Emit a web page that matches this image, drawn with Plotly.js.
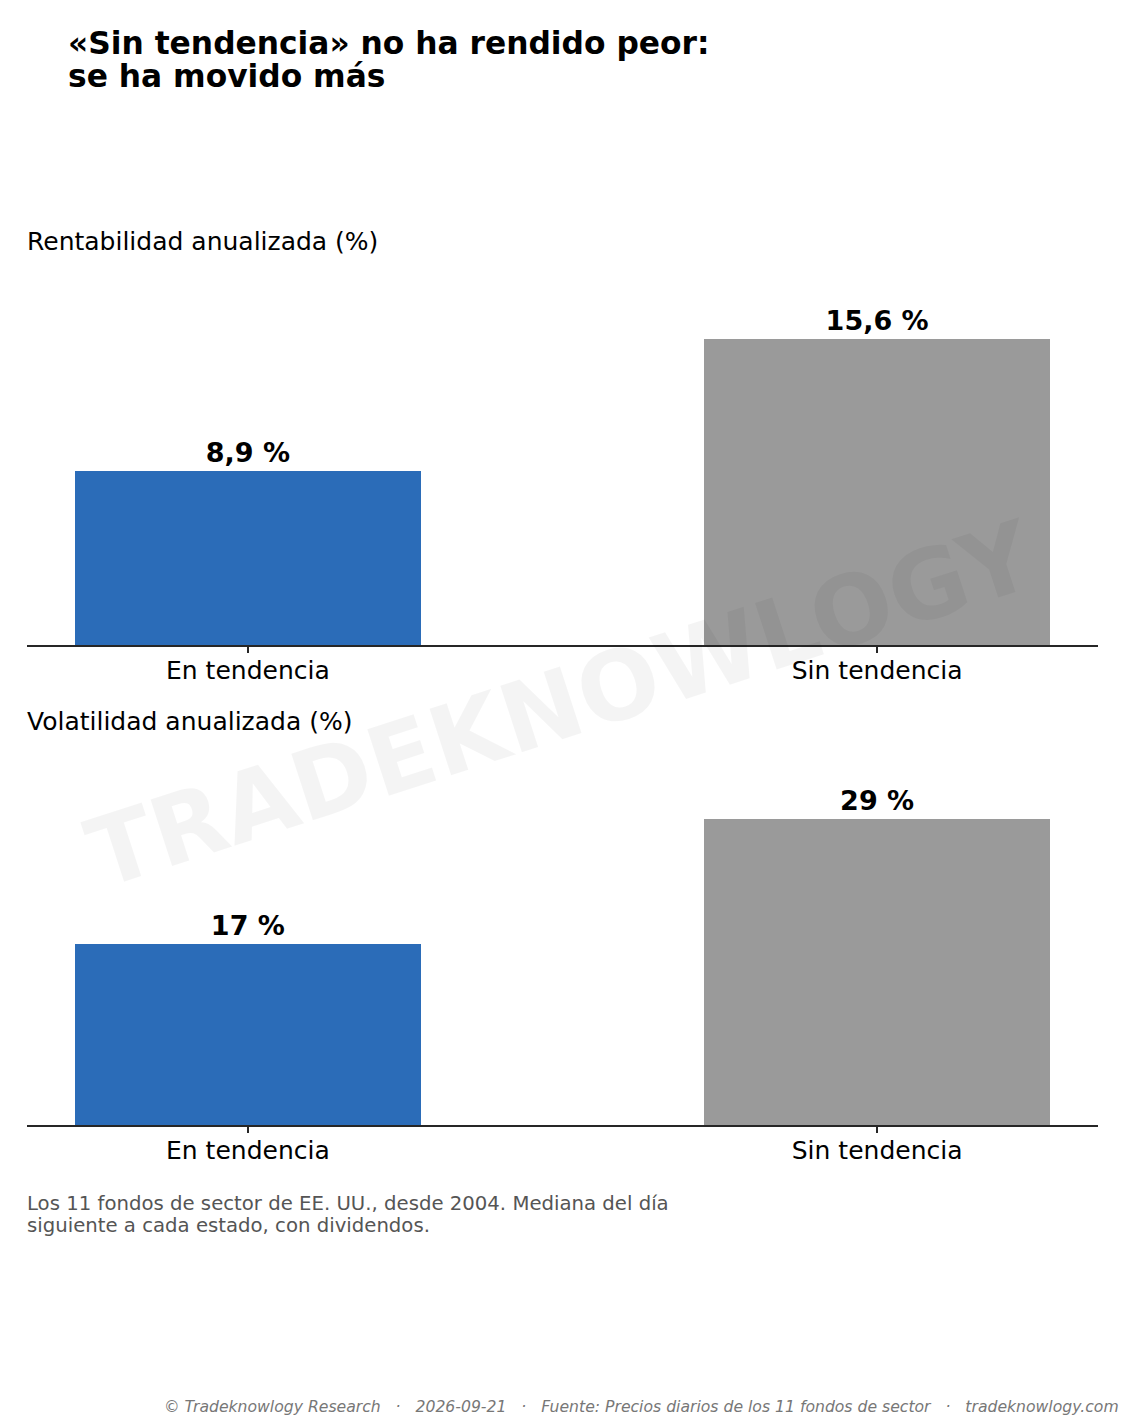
<!DOCTYPE html>
<html>
<head>
<meta charset="utf-8">
<script src="https://cdn.plot.ly/plotly-3.0.1.min.js"></script>
<style>html,body{margin:0;padding:0;background:#fff;}#chart{width:1125px;height:1425px;}</style>
</head>
<body>
<div id="chart"></div>
<script>
const categories = ['En tendencia', 'Sin tendencia'];
const returnValues = [8.9, 15.6];
const volatilityValues = [17.2, 29];
const barColors = ['#2b6cb8', '#9a9a9a'];
const panelTitles = ['Rentabilidad anualizada (%)', 'Volatilidad anualizada (%)'];
const titleLines = ['«Sin tendencia» no ha rendido peor:', 'se ha movido más'];
const noteLines = ['Los 11 fondos de sector de EE. UU., desde 2004. Mediana del día', 'siguiente a cada estado, con dividendos.'];
const footerParts = ['© Tradeknowlogy Research', '2026-09-21', 'Fuente: Precios diarios de los 11 fondos de sector', 'tradeknowlogy.com'];
const watermark = 'TRADEKNOWLOGY';

const W = 1125, H = 1425;
const px = x => x / W;
const py = y => 1 - y / H;
const FONT = 'DejaVu Sans, sans-serif';

const barCommon = {
  type: 'bar',
  x: categories,
  width: 0.55,
  marker: {color: barColors, line: {width: 0}},
  textposition: 'outside',
  cliponaxis: false,
  textfont: {family: FONT, size: 27, color: '#000', weight: 'bold'},
  hoverinfo: 'skip',
  showlegend: false
};

const traces = [
  Object.assign({}, barCommon, {y: returnValues, texttemplate: '<b>%{y:.1f} %</b>', xaxis: 'x', yaxis: 'y'}),
  Object.assign({}, barCommon, {y: volatilityValues, texttemplate: '<b>%{y:.0f} %</b>', xaxis: 'x2', yaxis: 'y2'})
];

const xCommon = {
  type: 'category',
  domain: [px(27), px(1098)],
  range: [-0.351, 1.351],
  showgrid: false,
  zeroline: false,
  showline: true,
  linecolor: '#262626',
  linewidth: 1.5,
  ticks: 'outside',
  ticklen: 6,
  tickwidth: 1.3,
  tickcolor: '#262626',
  ticklabelstandoff: -4,
  tickfont: {family: FONT, size: 25, color: '#000'},
  fixedrange: true
};
const yCommon = {
  showgrid: false, zeroline: false, showline: false, showticklabels: false, ticks: '', fixedrange: true
};

const ann = [];
function addText(text, x, y, anchor, size, color) {
  ann.push({text: text, x: px(x), y: py(y), xref: 'paper', yref: 'paper', xanchor: anchor, yanchor: 'middle',
            align: anchor, showarrow: false, font: {family: FONT, size: size, color: color}});
}
addText('<b>' + titleLines[0] + '</b>', 66, 43, 'left', 31.3, '#000');
addText('<b>' + titleLines[1] + '</b>', 66, 76, 'left', 31.3, '#000');
addText(panelTitles[0], 25, 241, 'left', 25, '#000');
addText(panelTitles[1], 25, 721, 'left', 25, '#000');
addText(noteLines[0], 25, 1203, 'left', 19.7, '#555');
addText(noteLines[1], 25, 1225, 'left', 19.7, '#555');
const sep = '\u00a0\u00a0\u00a0·\u00a0\u00a0\u00a0';
addText('<i>' + footerParts.join(sep) + '</i>', 1121, 1406, 'right', 15.65, '#777');
ann.push({text: '<b>' + watermark + '</b>', x: px(561), y: py(705), xref: 'paper', yref: 'paper', xanchor: 'center', yanchor: 'middle', textangle: -18, showarrow: false, font: {family: FONT, size: 96, color: 'rgba(0,0,0,0.045)'}});

const layout = {
  width: W, height: H,
  margin: {l: 0, r: 0, t: 0, b: 0, pad: 0},
  paper_bgcolor: '#fff', plot_bgcolor: '#fff',
  separators: ',.',
  font: {family: FONT, color: '#000'},
  bargap: 0,
  xaxis: Object.assign({}, xCommon, {anchor: 'y'}),
  yaxis: Object.assign({}, yCommon, {domain: [py(645), py(263)], range: [0, returnValues[1] * 1.25], anchor: 'x'}),
  xaxis2: Object.assign({}, xCommon, {anchor: 'y2'}),
  yaxis2: Object.assign({}, yCommon, {domain: [py(1125), py(743)], range: [0, volatilityValues[1] * 1.25], anchor: 'x2'}),
  annotations: ann,
  showlegend: false
};

Plotly.newPlot('chart', traces, layout, {displayModeBar: false, staticPlot: true});
</script>
</body>
</html>
